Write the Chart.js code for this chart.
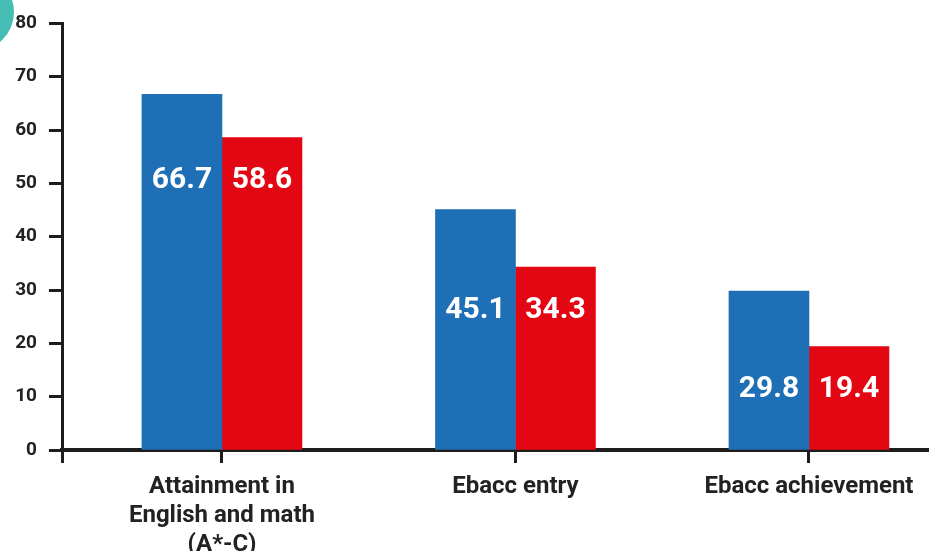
<!DOCTYPE html>
<html>
<head>
<meta charset="utf-8">
<title>Attainment and Ebacc</title>
<script src="https://cdn.jsdelivr.net/npm/chart.js@4.4.1/dist/chart.umd.min.js"></script>
<style>
    html, body { margin: 0; padding: 0; background: #ffffff; overflow: hidden; }
    #chart-wrap { position: relative; width: 929px; height: 551px; }
</style>
</head>
<body>
<div id="chart-wrap"><canvas id="result-chart"></canvas></div>
<script>
// Chart data
const categories = [
    ['Attainment in', 'English and math', '(A*-C)'],
    ['Ebacc entry'],
    ['Ebacc achievement']
];
const blueValues = [66.7, 45.1, 29.8];
const redValues = [58.6, 34.3, 19.4];
const yTicks = [0, 10, 20, 30, 40, 50, 60, 70, 80];

const AXIS_COLOR = '#1d1d1b';
const BLUE = '#1f6fb6';
const RED = '#e30613';
const FONT = 'Roboto, "DejaVu Sans", sans-serif';

// Build {x, y} points so bars sit on a numeric x axis
function toPoints(values) {
    return values.map((v, i) => ({ x: i, y: v }));
}

// White value labels inside the bars, lined up per group
const valueLabels = {
    id: 'valueLabels',
    afterDatasetsDraw(chart) {
        const ctx = chart.ctx;
        const metas = [chart.getDatasetMeta(0), chart.getDatasetMeta(1)];
        ctx.save();
        ctx.fillStyle = '#ffffff';
        ctx.font = 'bold 30px ' + FONT;
        ctx.textAlign = 'center';
        ctx.textBaseline = 'middle';
        categories.forEach((c, i) => {
            const lowTop = Math.max(metas[0].data[i].y, metas[1].data[i].y);
            const y = lowTop + 43;
            metas.forEach((meta, d) => {
                const bar = meta.data[i];
                const value = chart.data.datasets[d].data[i].y;
                ctx.fillText(value.toFixed(1), bar.x, y);
            });
        });
        ctx.restore();
    }
};

// Teal corner decoration
const cornerMark = {
    id: 'cornerMark',
    beforeDraw(chart) {
        const ctx = chart.ctx;
        ctx.save();
        ctx.fillStyle = '#45bdb5';
        ctx.beginPath();
        ctx.arc(-25, 12, 39, 0, Math.PI * 2);
        ctx.fill();
        ctx.restore();
    }
};

const ctx = document.getElementById('result-chart');
new Chart(ctx, {
    type: 'bar',
    data: {
        datasets: [
            {
                label: 'Blue',
                data: toPoints(blueValues),
                backgroundColor: BLUE,
                borderWidth: 0,
                barThickness: 80
            },
            {
                label: 'Red',
                data: toPoints(redValues),
                backgroundColor: RED,
                borderWidth: 0,
                barThickness: 80
            }
        ]
    },
    options: {
        responsive: true,
        maintainAspectRatio: false,
        animation: false,
        layout: {
            padding: { top: 23, right: 0, left: 0, bottom: 0 }
        },
        plugins: {
            legend: { display: false },
            tooltip: { enabled: false }
        },
        scales: {
            x: {
                type: 'linear',
                offset: false,
                min: -0.545,
                max: 2.409,
                afterBuildTicks(scale) {
                    scale.ticks = [{ value: scale.min }].concat(categories.map((c, i) => ({ value: i })));
                },
                afterFit(scale) {
                    scale.height = 101;
                },
                ticks: {
                    autoSkip: false,
                    maxRotation: 0,
                    padding: 10,
                    color: '#222222',
                    font: { family: FONT, size: 24, weight: 'bold', lineHeight: 1.2 },
                    callback: function(value) {
                        return Number.isInteger(value) && categories[value] ? categories[value] : '';
                    }
                },
                grid: {
                    offset: false,
                    drawOnChartArea: false,
                    drawTicks: true,
                    tickLength: 13,
                    tickWidth: 3,
                    tickColor: AXIS_COLOR
                },
                border: {
                    display: true,
                    color: AXIS_COLOR,
                    width: 4
                }
            },
            y: {
                min: 0,
                max: 80,
                afterBuildTicks(scale) {
                    scale.ticks = yTicks.map(v => ({ value: v }));
                },
                afterFit(scale) {
                    scale.width = 62;
                },
                ticks: {
                    padding: 12,
                    color: '#222222',
                    font: { family: FONT, size: 19, weight: 'bold' }
                },
                grid: {
                    drawOnChartArea: false,
                    drawTicks: true,
                    tickLength: 13,
                    tickWidth: 3,
                    tickColor: AXIS_COLOR
                },
                border: {
                    display: true,
                    color: AXIS_COLOR,
                    width: 3
                }
            }
        }
    },
    plugins: [cornerMark, valueLabels]
});
</script>
</body>
</html>
